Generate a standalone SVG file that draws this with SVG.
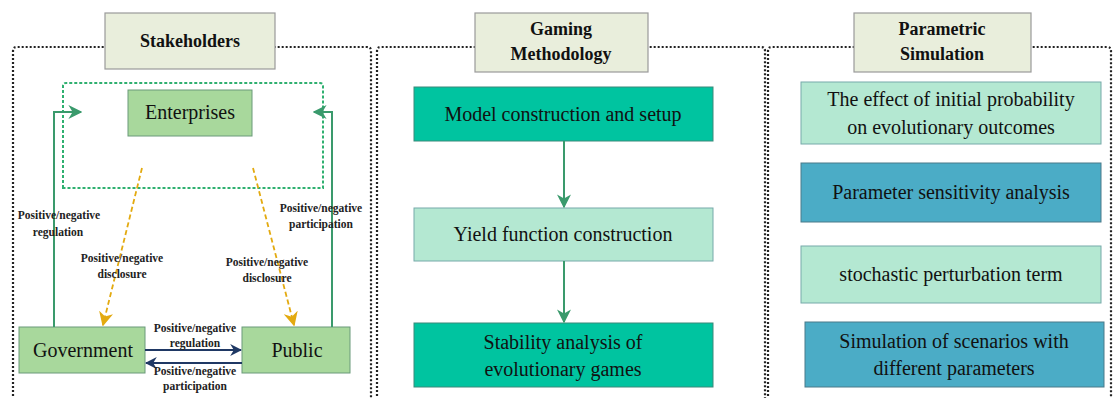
<svg xmlns="http://www.w3.org/2000/svg" width="1119" height="398" viewBox="0 0 1119 398" font-family="'Liberation Serif','DejaVu Serif','Times New Roman',serif">
<defs>
<style>
.panel{fill:none;stroke:#222;stroke-width:2.2;stroke-dasharray:2 2}
.title{fill:#e9eedc;stroke:#9a9a9a;stroke-width:1.2}
text{font-family:'Liberation Serif','DejaVu Serif','Times New Roman',serif}
.tt{font-weight:bold;font-size:18px;fill:#111;text-anchor:middle}
.nt{font-size:20px;fill:#111;text-anchor:middle}
.lb{font-weight:bold;font-size:11.5px;fill:#222;text-anchor:middle}
.gn{fill:#a8d89c;stroke:#6a9a7a;stroke-width:1}
.teal{fill:#00c4a0;stroke:#3a8a7a;stroke-width:1}
.mint{fill:#b4e8d2;stroke:#7aa;stroke-width:1}
.blue{fill:#4bacc6;stroke:#4a7a8a;stroke-width:1}
.garr{stroke:#3a9a6c;stroke-width:2;fill:none}
.oarr{stroke:#e3aa10;stroke-width:1.8;fill:none;stroke-dasharray:5 3}
.barr{stroke:#1f3864;stroke-width:2;fill:none}
</style>
<marker id="mg" viewBox="0 0 10 10" refX="9" refY="5" markerWidth="7" markerHeight="7" orient="auto" markerUnits="strokeWidth"><path d="M0,0L10,5L0,10L3,5z" fill="#3a9a6c"/></marker>
<marker id="mo" viewBox="0 0 10 10" refX="9" refY="5" markerWidth="8" markerHeight="8" orient="auto" markerUnits="strokeWidth"><path d="M0,0L10,5L0,10L3,5z" fill="#e3aa10"/></marker>
<marker id="mb" viewBox="0 0 10 10" refX="9" refY="5" markerWidth="6" markerHeight="6" orient="auto" markerUnits="strokeWidth"><path d="M0,0L10,5L0,10L3,5z" fill="#1f3864"/></marker>
</defs>
<rect width="1119" height="398" fill="#fff"/>
<g id="panels">
<path class="panel" d="M13,400 V51 Q13,47 17,47 H367 Q371,47 371,51 V400"/>
<path class="panel" d="M377,400 V51 Q377,47 381,47 H761 Q765,47 765,51 V400"/>
<path class="panel" d="M768,400 V51 Q768,47 772,47 H1107 Q1111,47 1111,51 V400"/>
<path d="M63,188 V86 Q63,83 66,83 H320 Q323,83 323,86 V188 Z" fill="none" stroke="#2fb070" stroke-width="2" stroke-dasharray="3 2"/>
</g>
<g id="title-stakeholders"><rect class="title" x="105" y="13" width="170" height="56"/><text class="tt" x="190" y="47">Stakeholders</text></g>
<g id="title-gaming"><rect class="title" x="475" y="13" width="173" height="59"/><text class="tt" x="561" y="35">Gaming</text><text class="tt" x="561" y="60">Methodology</text></g>
<g id="title-parametric"><rect class="title" x="854" y="13" width="177" height="59"/><text class="tt" x="942" y="35">Parametric</text><text class="tt" x="942" y="60">Simulation</text></g>
<g id="enterprises"><rect class="gn" x="128" y="90" width="124" height="46"/><text class="nt" x="190" y="119" font-size="19">Enterprises</text></g>
<g id="government"><rect class="gn" x="19" y="327" width="126" height="46"/><text class="nt" x="83" y="357" font-size="19">Government</text></g>
<g id="public"><rect class="gn" x="242" y="327" width="108" height="46"/><text class="nt" x="297" y="357" font-size="19">Public</text></g>
<g id="model"><rect class="teal" x="414" y="87" width="299" height="54"/><text class="nt" x="563" y="121">Model construction and setup</text></g>
<g id="yield"><rect class="mint" x="414" y="208" width="299" height="53"/><text class="nt" x="563" y="241">Yield function construction</text></g>
<g id="stability"><rect class="teal" x="414" y="323" width="299" height="64"/><text class="nt" x="563" y="349">Stability analysis of</text><text class="nt" x="563" y="376">evolutionary games</text></g>
<g id="effect"><rect class="mint" x="801" y="82" width="300" height="62"/><text class="nt" x="951" y="106">The effect of initial probability</text><text class="nt" x="951" y="134">on evolutionary outcomes</text></g>
<g id="sensitivity"><rect class="blue" x="801" y="163" width="300" height="59"/><text class="nt" x="951" y="199">Parameter sensitivity analysis</text></g>
<g id="stochastic"><rect class="mint" x="801" y="246" width="300" height="57"/><text class="nt" x="951" y="281">stochastic perturbation term</text></g>
<g id="scenarios"><rect class="blue" x="805" y="322" width="299" height="65"/><text class="nt" x="954" y="348">Simulation of scenarios with</text><text class="nt" x="954" y="375">different parameters</text></g>
<g id="connectors">
<path class="garr" d="M54,327 V112 H81" marker-end="url(#mg)"/>
<path class="garr" d="M332,327 V112 H314" marker-end="url(#mg)"/>
<path class="oarr" d="M142,168 L103,325" marker-end="url(#mo)"/>
<path class="oarr" d="M253,168 L294,325" marker-end="url(#mo)"/>
<path class="barr" d="M145,350 H241" marker-end="url(#mb)"/>
<path class="barr" d="M242,363 H146" marker-end="url(#mb)"/>
<path class="garr" d="M564,141 V207" marker-end="url(#mg)"/>
<path class="garr" d="M564,261 V322" marker-end="url(#mg)"/>
</g>
<g id="labels">
<text class="lb" x="59" y="219">Positive/negative</text><text class="lb" x="58" y="236">regulation</text>
<text class="lb" x="122" y="262">Positive/negative</text><text class="lb" x="122" y="278">disclosure</text>
<text class="lb" x="267" y="266">Positive/negative</text><text class="lb" x="267" y="282">disclosure</text>
<text class="lb" x="321" y="212">Positive/negative</text><text class="lb" x="321" y="228">participation</text>
<text class="lb" x="195" y="332">Positive/negative</text><text class="lb" x="195" y="347">regulation</text>
<text class="lb" x="195" y="375">Positive/negative</text><text class="lb" x="195" y="390">participation</text>
</g>
</svg>
